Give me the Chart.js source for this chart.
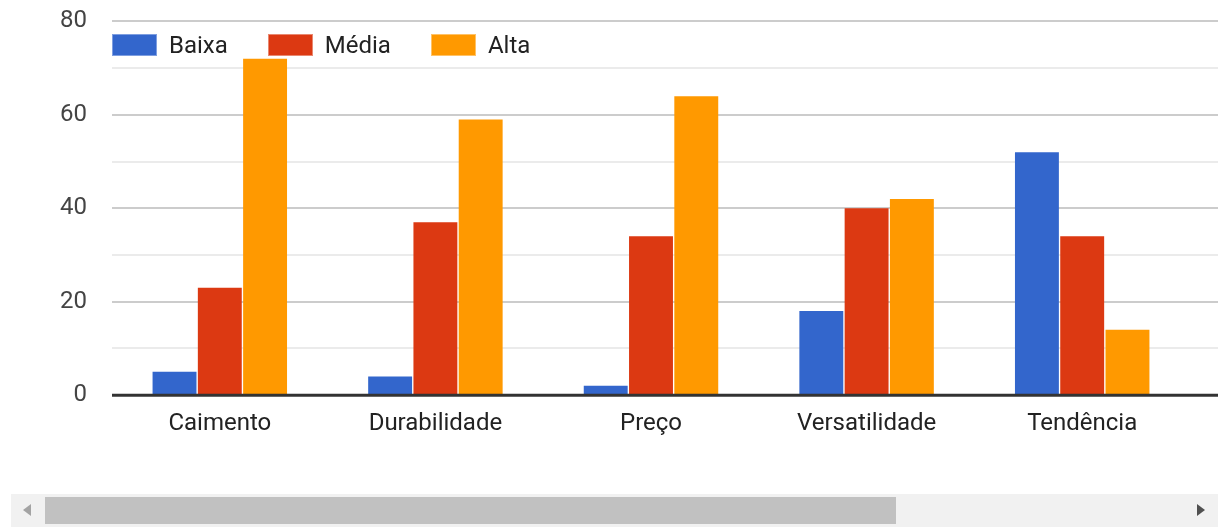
<!DOCTYPE html>
<html>
<head>
<meta charset="utf-8">
<script src="https://cdn.jsdelivr.net/npm/chart.js@4.4.1/dist/chart.umd.min.js"></script>
<style>
  html, body { margin: 0; padding: 0; background: #fff; overflow: hidden; }
  body { width: 1218px; height: 527px; position: relative; font-family: Roboto, "Liberation Sans", Arial, sans-serif; }
  #wrap { position: absolute; left: 0; top: -18px; width: 1218px; height: 470px; }
  #legend { position: absolute; left: 112px; top: 34px; display: flex; font-size: 24px; color: #222; }
  .item { display: flex; align-items: center; margin-right: 40px; height: 22px; }
  .swatch { width: 45px; height: 22px; box-sizing: border-box; margin-right: 12px; }
  #track { position: absolute; left: 11px; top: 494px; width: 1207px; height: 33px; background: #f1f1f1; }
  #thumb { position: absolute; left: 45px; top: 497px; width: 851px; height: 27px; background: #c1c1c1; }
  .arrow { position: absolute; width: 0; height: 0; border-top: 6px solid transparent; border-bottom: 6px solid transparent; }
  #arrL { left: 23px; top: 504px; border-right: 8px solid #a3a3a3; }
  #arrR { left: 1197px; top: 504px; border-left: 8px solid #505050; }
</style>
</head>
<body>
<div id="wrap"><canvas id="chart" width="1218" height="470"></canvas></div>
<div id="legend"></div>
<div id="track"></div>
<div id="thumb"></div>
<div class="arrow" id="arrL"></div>
<div class="arrow" id="arrR"></div>
<script>
// Avaliação dos atributos por nível
const categories = ['Caimento', 'Durabilidade', 'Preço', 'Versatilidade', 'Tendência'];
const seriesNames = ['Baixa', 'Média', 'Alta'];
const baixa = [5, 4, 2, 18, 52];
const media = [23, 37, 34, 40, 34];
const alta = [72, 59, 64, 42, 14];
const yTicks = [0, 20, 40, 60, 80];
const colors = ['#3366cc', '#dc3912', '#ff9900'];
const borders = ['#7e9ee0', '#e98870', '#ffc266'];

const values = [baixa, media, alta];

// HTML legend above the plot
const legendEl = document.getElementById('legend');
seriesNames.forEach((name, i) => {
  const item = document.createElement('div');
  item.className = 'item';
  const sw = document.createElement('div');
  sw.className = 'swatch';
  sw.style.background = colors[i];
  sw.style.border = '1px solid ' + borders[i];
  const tx = document.createElement('span');
  tx.textContent = name;
  item.appendChild(sw);
  item.appendChild(tx);
  legendEl.appendChild(item);
});

// Horizontal gridlines continue to the right edge of the canvas
const extendGrid = {
  id: 'extendGrid',
  beforeDatasetsDraw(chart) {
    const { ctx, chartArea, scales } = chart;
    const y = scales.y;
    ctx.save();
    y.ticks.forEach(t => {
      const py = Math.round(y.getPixelForValue(t.value));
      if (t.value === 0) return;
      ctx.strokeStyle = t.value % 20 === 0 ? '#cccccc' : '#ebebeb';
      ctx.lineWidth = 2;
      ctx.beginPath();
      ctx.moveTo(chartArea.right, py);
      ctx.lineTo(chart.width, py);
      ctx.stroke();
    });
    ctx.restore();
  },
  afterDatasetsDraw(chart) {
    const { ctx, chartArea, scales } = chart;
    const py = scales.y.getPixelForValue(0);
    ctx.save();
    ctx.strokeStyle = '#333333';
    ctx.lineWidth = 3;
    ctx.beginPath();
    ctx.moveTo(chartArea.left, py);
    ctx.lineTo(chart.width, py);
    ctx.stroke();
    ctx.restore();
  }
};

new Chart(document.getElementById('chart'), {
  type: 'bar',
  data: {
    labels: categories,
    datasets: seriesNames.map((name, i) => ({
      label: name,
      data: values[i],
      backgroundColor: colors[i],
      borderWidth: 0,
      categoryPercentage: 0.63,
      barPercentage: 0.97
    }))
  },
  options: {
    responsive: false,
    animation: false,
    layout: { padding: { top: 0, right: 28, left: 0, bottom: 0 } },
    plugins: {
      legend: { display: false },
      tooltip: { enabled: false }
    },
    scales: {
      x: {
        grid: { display: false, drawTicks: false },
        border: { display: false },
        ticks: {
          color: '#222',
          padding: 14,
          font: { family: 'Roboto', size: 24 }
        }
      },
      y: {
        min: 0,
        max: 80,
        afterFit(scale) { scale.width = 112; },
        border: { display: false },
        grid: {
          drawTicks: false,
          color: ctx => ctx.tick.value % 20 === 0 ? '#cccccc' : '#ebebeb',
          lineWidth: 2
        },
        ticks: {
          stepSize: 10,
          padding: 25,
          color: '#444',
          font: { family: 'Roboto', size: 24 },
          callback: v => yTicks.includes(v) ? String(v) : ''
        }
      }
    }
  },
  plugins: [extendGrid]
});
</script>
</body>
</html>
